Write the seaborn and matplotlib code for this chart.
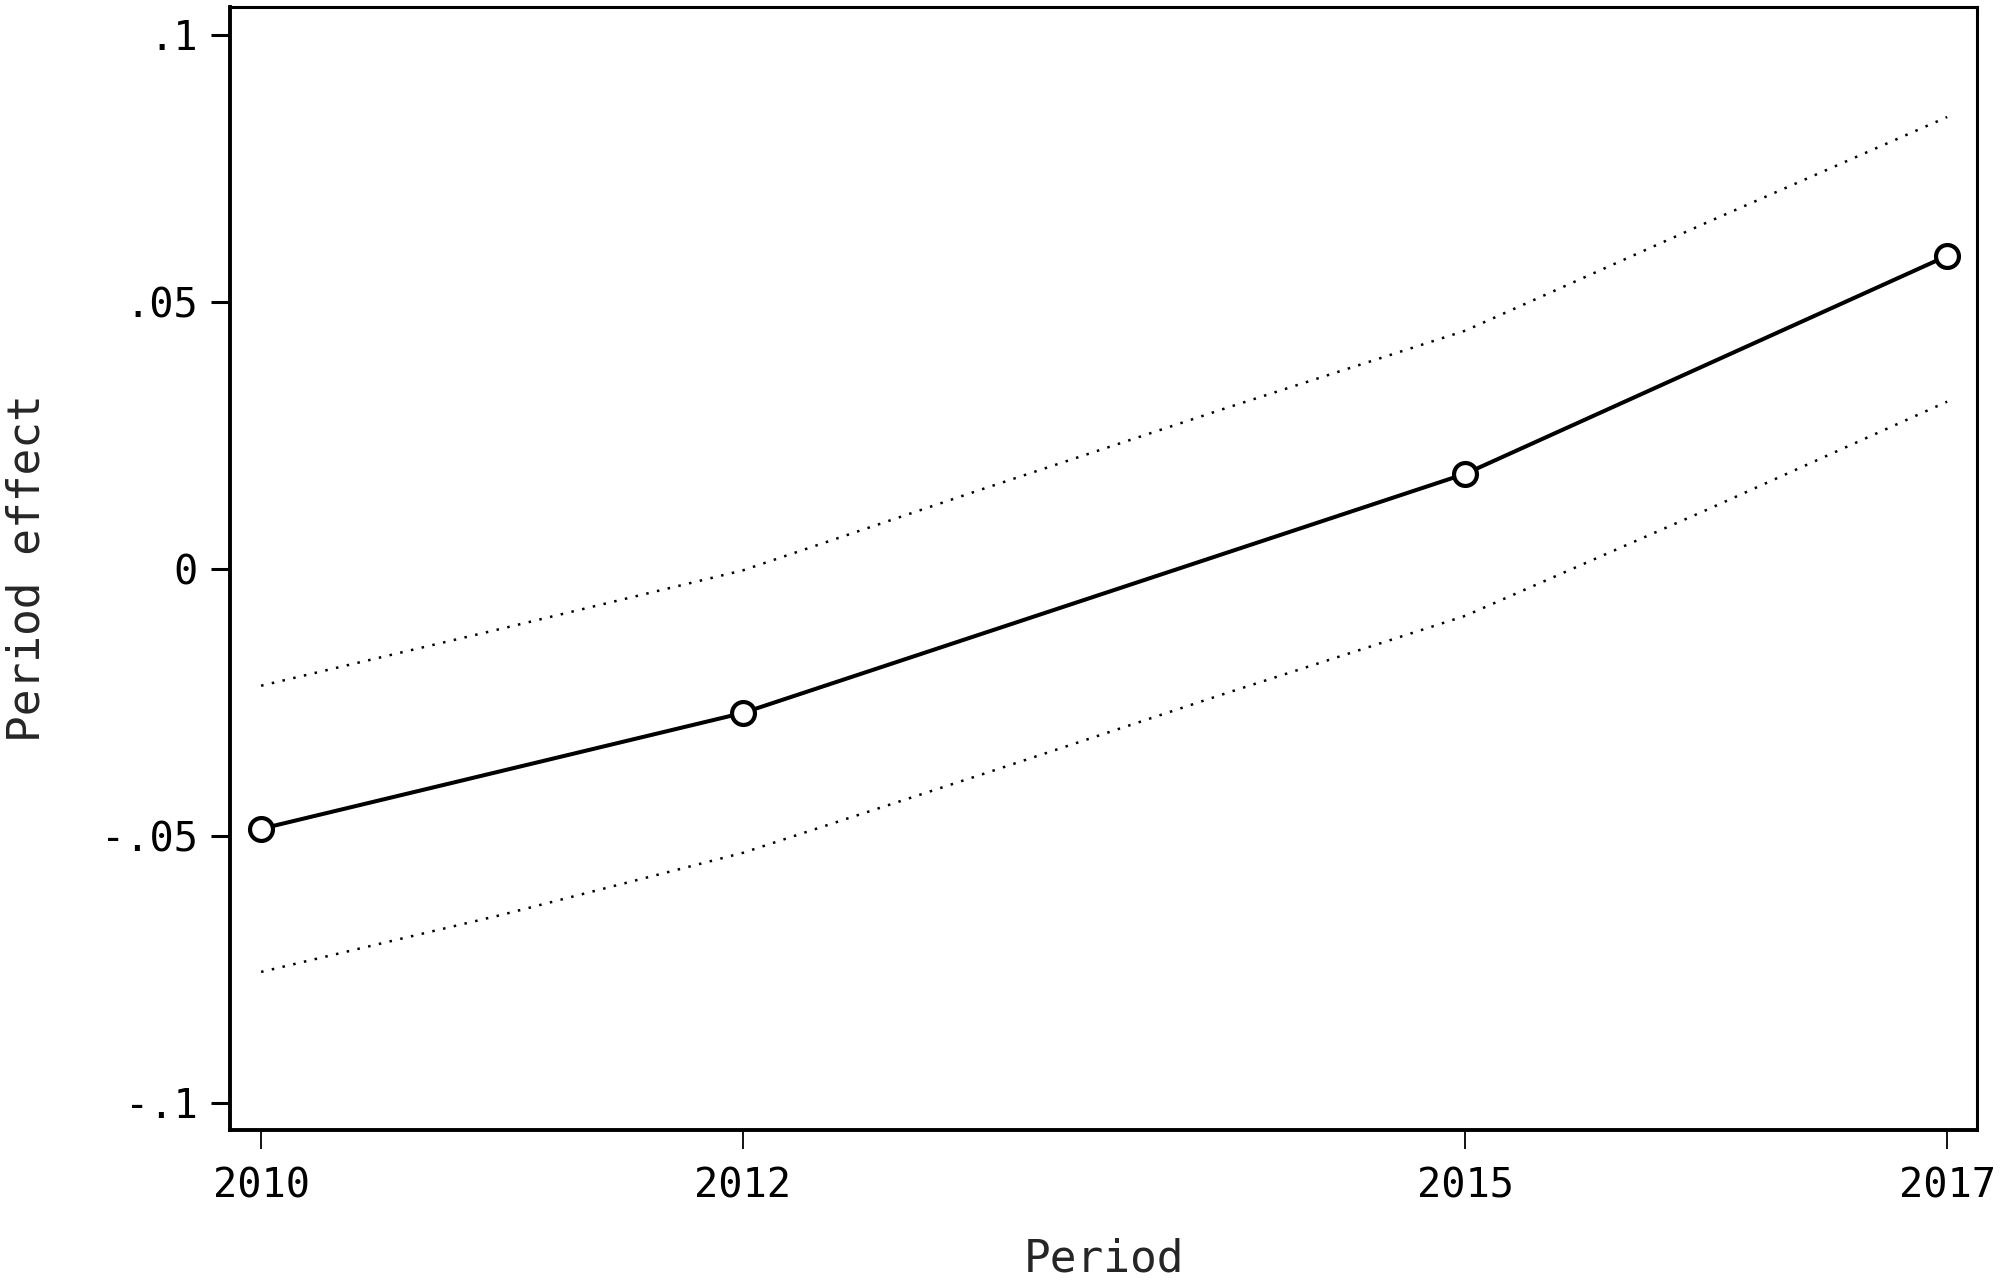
import matplotlib
matplotlib.use("Agg")
import matplotlib.pyplot as plt
import seaborn as sns

# period effect estimates
periods = [2010, 2012, 2015, 2017]
effect = [-0.0487, -0.0270, 0.0178, 0.0586]

ci_years = [2010, 2011, 2012, 2013, 2014, 2015, 2016, 2017]
ci_upper = [-0.0219, -0.0112, -0.0003, 0.0150, 0.0300, 0.0446, 0.0648, 0.0846]
ci_lower = [-0.0755, -0.0648, -0.0532, -0.0384, -0.0234, -0.0088, 0.0110, 0.0313]

yticks = [-0.1, -0.05, 0, 0.05, 0.1]
ytick_labels = ["-.1", "-.05", "0", ".05", ".1"]
xticks = periods
xtick_labels = ["2010", "2012", "2015", "2017"]

sns.set_style("ticks")
plt.rcParams['font.family'] = ['DejaVu Sans Mono', 'DejaVu Sans']

fig = plt.figure(figsize=(20, 12.8), dpi=100)
ax = fig.add_axes([0.115, 0.1172, 0.8735, 0.8773])

# ── CI band (dotted) ──────────────────────────────────────────
for band in (ci_upper, ci_lower):
    sns.lineplot(x=ci_years, y=band, ax=ax, color='black', lw=1.8,
                 linestyle=(0, (1, 3.4)), dash_capstyle='butt')

# ── point estimates ───────────────────────────────────────────
sns.lineplot(x=periods, y=effect, ax=ax, color='black', lw=2.9,
             marker='o', markersize=16.5, markerfacecolor='white',
             markeredgecolor='black', markeredgewidth=3.0)

ax.set_xlim(2009.871, 2017.124)
ax.set_ylim(-0.1051, 0.1052)
ax.set_xticks(xticks)
ax.set_xticklabels(xtick_labels)
ax.set_yticks(yticks)
ax.set_yticklabels(ytick_labels)

for side, s in ax.spines.items():
    s.set_visible(True)
    s.set_color('black')
    s.set_linewidth(2.8 if side in ('left', 'bottom') else 2.2)

ax.tick_params(axis='y', length=14, width=2.2, pad=9, labelsize=29,
               colors='black')
ax.tick_params(axis='x', length=14, width=1.3, pad=12, labelsize=29,
               colors='black')

ax.set_xlabel('Period', fontsize=32)
ax.set_ylabel('Period effect', fontsize=32)
ax.xaxis.set_label_coords(0.5, -0.096)
ax.yaxis.set_label_coords(-0.104, 0.5)

fig.savefig('out.png', dpi=100, facecolor='white')
